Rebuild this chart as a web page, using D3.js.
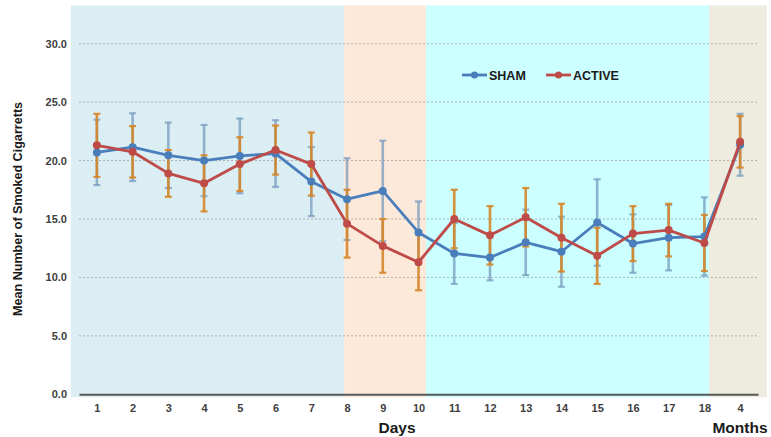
<!DOCTYPE html>
<html>
<head>
<meta charset="utf-8">
<script src="https://cdn.jsdelivr.net/npm/d3@7"></script>
<style>
  html, body { margin: 0; padding: 0; background: #ffffff; }
  svg { display: block; font-family: "Liberation Sans", Arial, sans-serif; }
</style>
</head>
<body>
<svg id="chart" width="771" height="437"></svg>
<script>
// ---- Data ----
const categories = ["1","2","3","4","5","6","7","8","9","10","11","12","13","14","15","16","17","18","4"];
const shamValues  = [20.7, 21.15, 20.45, 20.0, 20.4, 20.6, 18.2, 16.7, 17.4, 13.85, 12.05, 11.7, 13.0, 12.2, 14.7, 12.9, 13.4, 13.5, 21.35];
const shamErr     = [2.8, 2.9, 2.8, 3.05, 3.2, 2.85, 2.95, 3.5, 4.3, 2.65, 2.6, 1.95, 2.8, 3.0, 3.7, 2.5, 2.8, 3.35, 2.65];
const activeValues= [21.3, 20.75, 18.9, 18.05, 19.7, 20.9, 19.7, 14.6, 12.7, 11.3, 15.0, 13.6, 15.15, 13.4, 11.85, 13.75, 14.05, 12.95, 21.6];
const activeErr   = [2.7, 2.2, 2.0, 2.4, 2.3, 2.1, 2.7, 2.9, 2.3, 2.4, 2.5, 2.5, 2.5, 2.9, 2.4, 2.35, 2.25, 2.4, 2.2];
const yTicks = [0, 5, 10, 15, 20, 25, 30];
const seriesNames = ["SHAM", "ACTIVE"];
// background phases, in category-index units
const phases = [
  { from: -0.73, to: 6.92, color: "#dbeef4" },
  { from: 6.92, to: 9.21, color: "#fde9da" },
  { from: 9.21, to: 17.13, color: "#ccffff" },
  { from: 17.13, to: 18.75, color: "#edecdf" }
];

// ---- Layout ----
const svg = d3.select("#chart");
const plotLeft = 79, plotRight = 758, yTop = 43.7, yBottom = 394.3;
const idx = categories.map((d, i) => i);
const x = d3.scalePoint().domain(idx).range([plotLeft, plotRight]).padding(0.5);
const xl = d3.scaleLinear().domain([0, 18]).range([x(0), x(18)]);
const y = d3.scaleLinear().domain([0, 30]).range([yBottom, yTop]);

// backgrounds
svg.append("g").selectAll("rect").data(phases).join("rect")
  .attr("x", d => xl(d.from)).attr("width", d => xl(d.to) - xl(d.from))
  .attr("y", 5.5).attr("height", yBottom + 3 - 5.5)
  .attr("fill", d => d.color);

// gridlines
svg.append("g").selectAll("line").data(yTicks.filter(t => t > 0)).join("line")
  .attr("x1", plotLeft).attr("x2", plotRight)
  .attr("y1", d => y(d)).attr("y2", d => y(d))
  .attr("stroke", "#a0a0a0").attr("stroke-width", 0.8).attr("stroke-dasharray", "2,2");

// y axis
const yAxis = d3.axisLeft(y).tickValues(yTicks).tickFormat(d3.format(".1f")).tickSize(0).tickPadding(0);
const gy = svg.append("g").attr("transform", `translate(67,0)`).call(yAxis);
gy.select(".domain").remove();
gy.selectAll("text").attr("font-size", 11).attr("font-weight", "bold").attr("fill", "#404040")
  .attr("font-family", "'Liberation Sans', Arial, sans-serif");

// x axis
const xAxis = d3.axisBottom(x).tickFormat(i => categories[i]).tickSize(0).tickPadding(10);
const gx = svg.append("g").attr("transform", `translate(0,${yBottom})`).call(xAxis);
gx.select(".domain").attr("stroke", "#595959").attr("stroke-width", 2);
gx.selectAll("text").attr("font-size", 11).attr("font-weight", "bold").attr("fill", "#404040")
  .attr("font-family", "'Liberation Sans', Arial, sans-serif");

// axis titles
svg.append("text").attr("x", 397).attr("y", 433).attr("text-anchor", "middle")
  .attr("font-size", 15.5).attr("font-weight", "bold").attr("fill", "#1a1a1a").text("Days");
svg.append("text").attr("x", 740).attr("y", 433).attr("text-anchor", "middle")
  .attr("font-size", 15.5).attr("font-weight", "bold").attr("fill", "#1a1a1a").text("Months");
svg.append("text").attr("transform", "translate(22,209) rotate(-90)").attr("text-anchor", "middle")
  .attr("font-size", 12.6).attr("font-weight", "bold").attr("fill", "#1a1a1a")
  .text("Mean Number of Smoked Cigarretts");

// series
const series = [
  { name: seriesNames[0], values: shamValues, err: shamErr, color: "#4a7ebb", errColor: "rgba(120,155,190,0.75)" },
  { name: seriesNames[1], values: activeValues, err: activeErr, color: "#be4b48", errColor: "rgba(214,134,40,0.9)" }
];

// error bars
series.forEach(s => {
  const g = svg.append("g");
  const data = s.values.map((v, i) => ({ i, v, e: s.err[i] }));
  g.selectAll("line.v").data(data).join("line").attr("class", "v")
    .attr("x1", d => x(d.i)).attr("x2", d => x(d.i))
    .attr("y1", d => y(d.v + d.e)).attr("y2", d => y(d.v - d.e))
    .attr("stroke", s.errColor).attr("stroke-width", 2.6);
  ["+", "-"].forEach(sign => {
    g.selectAll("line.c" + (sign === "+" ? "t" : "b")).data(data).join("line")
      .attr("class", "c" + (sign === "+" ? "t" : "b"))
      .attr("x1", d => x(d.i) - 3.5).attr("x2", d => x(d.i) + 3.5)
      .attr("y1", d => y(sign === "+" ? d.v + d.e : d.v - d.e))
      .attr("y2", d => y(sign === "+" ? d.v + d.e : d.v - d.e))
      .attr("stroke", s.errColor).attr("stroke-width", 2.2);
  });
});

// lines + markers
const line = d3.line().x((d, i) => x(i)).y(d => y(d));
series.forEach(s => {
  svg.append("path").datum(s.values).attr("d", line)
    .attr("fill", "none").attr("stroke", s.color).attr("stroke-width", 2.8).attr("stroke-linejoin", "round");
  svg.append("g").selectAll("circle").data(s.values).join("circle")
    .attr("cx", (d, i) => x(i)).attr("cy", d => y(d)).attr("r", 4)
    .attr("fill", s.color);
});

// legend
const legendItems = [
  { name: seriesNames[0], color: series[0].color, x0: 462 },
  { name: seriesNames[1], color: series[1].color, x0: 546 }
];
const lg = svg.append("g");
legendItems.forEach(d => {
  lg.append("line").attr("x1", d.x0).attr("x2", d.x0 + 25).attr("y1", 75).attr("y2", 75)
    .attr("stroke", d.color).attr("stroke-width", 2.8);
  lg.append("circle").attr("cx", d.x0 + 12.5).attr("cy", 75).attr("r", 3.5).attr("fill", d.color);
  lg.append("text").attr("x", d.x0 + 27).attr("y", 79.5).attr("font-size", 12.5).attr("font-weight", "bold")
    .attr("fill", "#1a1a1a").text(d.name);
});
</script>
</body>
</html>
